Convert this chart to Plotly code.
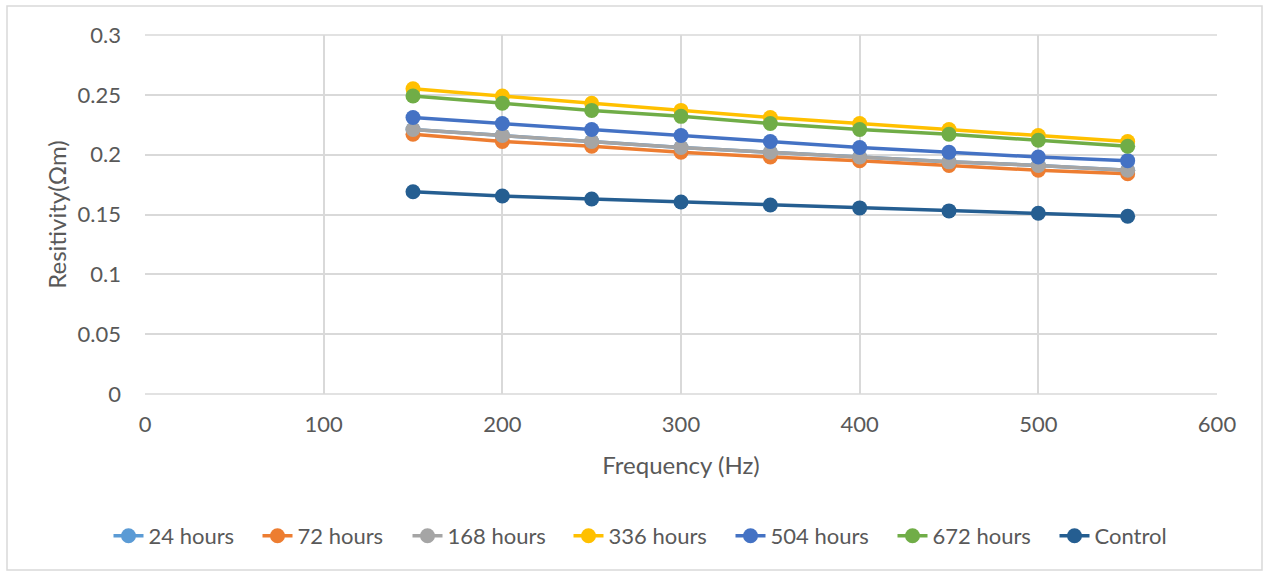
import plotly.graph_objects as go

freq = [150, 200, 250, 300, 350, 400, 450, 500, 550]
h24 = [0.221, 0.216, 0.211, 0.206, 0.202, 0.198, 0.194, 0.191, 0.187]
h72 = [0.217, 0.211, 0.207, 0.202, 0.198, 0.195, 0.191, 0.187, 0.184]
h168 = [0.221, 0.216, 0.211, 0.206, 0.202, 0.198, 0.194, 0.191, 0.187]
h336 = [0.255, 0.249, 0.243, 0.237, 0.231, 0.226, 0.221, 0.216, 0.211]
h504 = [0.231, 0.226, 0.221, 0.216, 0.211, 0.206, 0.202, 0.198, 0.195]
h672 = [0.249, 0.243, 0.237, 0.232, 0.226, 0.221, 0.217, 0.212, 0.207]
control = [0.169, 0.1655, 0.163, 0.1605, 0.158, 0.1555, 0.153, 0.151, 0.1485]

series = [
    ("24 hours", h24, "#5B9BD5", 104),
    ("72 hours", h72, "#ED7D31", 105),
    ("168 hours", h168, "#A5A5A5", 116),
    ("336 hours", h336, "#FFC000", 117),
    ("504 hours", h504, "#4472C4", 117),
    ("672 hours", h672, "#70AD47", 117),
    ("Control", control, "#255E91", 70),
]

fig = go.Figure()
for name, vals, col, lw in series:
    fig.add_trace(go.Scatter(
        x=freq, y=vals, name=name, mode="lines+markers",
        line=dict(color=col, width=3.5),
        marker=dict(color=col, size=15),
        legendwidth=lw,
    ))

W, H = 1264, 571
L, R, T, B = 145, 1217, 35, 394
pw, ph = R - L, B - T

def px(x):
    return (x - L) / pw

def py(y):
    return (B - y) / ph

grey = "#595959"

fig.update_layout(
    width=W, height=H,
    margin=dict(l=L, r=W - R, t=T, b=H - B, autoexpand=False),
    paper_bgcolor="white", plot_bgcolor="white",
    font=dict(family="Lato, 'Open Sans', sans-serif", size=22, color=grey),
    showlegend=True,
    legend=dict(orientation="h", x=px(639), xanchor="center", y=py(536), yanchor="middle",
                font=dict(size=22, color=grey), itemwidth=30, tracegroupgap=0,
                entrywidthmode="pixels"),
    xaxis=dict(range=[0, 600], dtick=100, tick0=0, showgrid=True, gridcolor="#D9D9D9",
               gridwidth=1.5, zeroline=False, showline=False, ticks="",
               ticklabelstandoff=15,
               tickfont=dict(size=22, color=grey),
               title=dict(text="Frequency (Hz)", font=dict(size=24, color=grey), standoff=21)),
    yaxis=dict(range=[0, 0.3], dtick=0.05, showgrid=True, gridcolor="#D9D9D9",
               gridwidth=1.5, zeroline=False, showline=False, ticks="",
               tickformat="~g", ticklabelstandoff=23,
               tickfont=dict(size=22, color=grey),
               title=dict(text="Resitivity(Ωm)", font=dict(size=24, color=grey), standoff=4)),
    shapes=[
        dict(type="rect", xref="paper", yref="paper",
             x0=px(7), x1=px(1262), y0=py(570), y1=py(6),
             line=dict(color="#D9D9D9", width=1.5), fillcolor="rgba(0,0,0,0)", layer="below"),
        dict(type="line", xref="paper", yref="paper", x0=0, x1=1, y0=0, y1=0,
             line=dict(color="#D9D9D9", width=1.5), layer="below"),
        dict(type="line", xref="paper", yref="paper", x0=0, x1=1, y0=1, y1=1,
             line=dict(color="#D9D9D9", width=1.5), layer="below"),
    ],
)

fig.write_html("out.html")
